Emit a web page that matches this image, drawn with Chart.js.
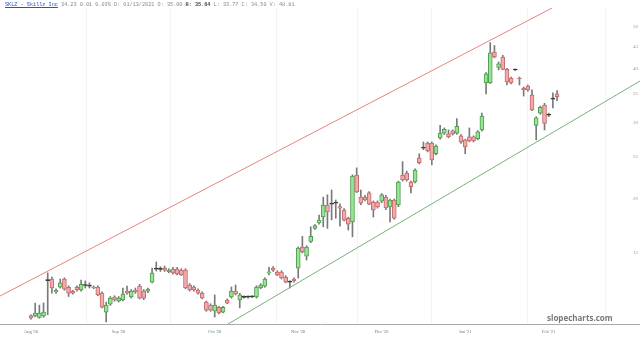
<!DOCTYPE html>
<html><head><meta charset="utf-8">
<script src="https://cdn.jsdelivr.net/npm/chart.js@4/dist/chart.umd.min.js"></script>
<style>
html,body{margin:0;padding:0;background:#fff;}
#wrap{position:relative;width:640px;height:338px;overflow:hidden;background:#fff;}
#hdr{position:absolute;left:5px;top:2px;font:5.2px 'Liberation Mono',monospace;color:#888;white-space:pre;line-height:7px;}
#hdr .t{color:#2a4fd0;text-decoration:underline;}
#hdr b{color:#444;}
#wm{position:absolute;left:547px;top:312px;font:bold 8px 'Open Sans',sans-serif;color:#777;white-space:nowrap;}
</style></head><body>
<div id="wrap"><canvas id="c" width="640" height="338"></canvas>
<div id="hdr"><span class="t">SKLZ - Skillz Inc</span> 34.23 0.01 0.03% D: 01/13/2021 O: 35.00 <b>H: 35.64</b> L: 33.77 C: 34.50 V: 48.81</div>
<div id="wm">slopecharts.com</div></div>
<script>
const opens  = [10.75,10.73,10.65,10.73,12.95,13.06,12.20,12.50,13.06,12.50,12.25,12.50,12.32,12.62,12.58,12.52,12.52,12.12,10.95,11.43,11.87,11.62,11.68,12.25,11.87,12.32,12.58,12.25,12.25,12.85,13.77,13.77,13.84,13.56,13.77,13.77,13.70,13.70,12.65,12.52,12.32,12.12,11.55,11.37,11.00,11.24,10.95,11.68,11.87,12.25,11.68,11.85,11.86,11.88,11.87,12.45,12.58,13.50,13.84,13.56,13.56,13.20,12.84,13.06,13.84,15.48,14.75,15.95,17.10,17.60,18.17,19.37,19.45,19.55,19.20,18.86,18.05,17.70,22.73,20.20,20.20,20.66,19.67,19.67,19.77,20.20,19.17,19.89,19.37,22.73,22.96,21.90,21.90,24.87,26.20,26.95,26.95,25.45,27.69,28.40,28.30,28.75,28.40,28.00,27.39,27.85,27.85,27.54,28.88,37.10,37.10,43.76,40.30,42.60,39.90,38.10,39.75,38.10,36.10,36.50,34.80,29.60,31.60,33.00,31.25,34.05,35.00];
const highs  = [10.80,11.49,11.37,11.50,13.50,13.20,12.40,13.06,13.15,12.60,12.30,12.60,12.99,12.93,12.80,12.60,12.60,12.20,11.55,11.90,11.95,11.90,12.45,12.58,12.35,12.45,12.70,12.35,12.45,13.84,14.30,13.95,14.00,13.80,13.90,13.90,13.80,13.80,12.75,12.60,12.40,12.20,11.62,11.45,12.00,11.30,11.30,11.75,12.52,12.65,12.10,11.95,11.95,11.95,12.60,12.75,13.15,13.90,13.95,13.65,13.65,13.30,12.95,13.15,15.50,16.40,15.60,17.25,17.45,18.35,20.20,20.45,20.98,19.90,19.50,19.00,18.15,22.75,23.60,20.98,20.40,20.80,19.80,19.80,20.60,20.40,20.00,20.00,22.00,24.40,23.20,22.00,23.50,25.45,27.10,27.10,27.10,26.70,29.60,29.20,28.90,28.90,30.70,28.20,27.50,29.20,28.00,28.80,31.60,39.20,46.00,45.30,41.50,43.00,40.10,38.30,40.00,38.30,36.30,36.70,35.75,31.00,32.80,33.30,31.60,35.20,35.64];
const lows   = [10.55,10.68,10.60,10.65,10.80,12.12,12.10,12.45,12.30,11.90,12.05,12.25,12.25,12.45,12.45,12.40,11.95,11.20,10.40,11.35,11.60,11.55,11.62,12.05,11.80,12.10,11.75,11.70,12.15,12.80,13.63,13.60,13.60,13.50,13.40,13.35,13.30,12.40,12.25,12.25,12.05,11.75,11.00,11.00,10.67,10.85,10.90,11.45,11.80,12.00,11.20,11.80,11.80,11.82,11.80,12.40,12.50,13.35,13.60,13.30,13.06,12.80,12.45,12.85,13.13,15.00,14.45,15.85,17.00,17.50,17.25,17.10,17.90,18.05,17.30,17.80,16.95,16.35,20.70,19.40,19.80,19.40,18.17,19.05,19.60,18.90,17.70,17.95,19.20,22.00,22.00,20.66,21.80,24.10,26.00,25.70,24.00,25.30,27.50,28.20,27.70,28.10,28.20,26.90,25.45,27.10,27.10,27.40,28.70,35.00,37.00,42.40,39.77,39.80,36.70,36.90,39.60,36.70,34.60,35.50,32.00,27.39,31.40,28.88,31.00,32.50,33.77];
const closes = [10.62,10.90,10.90,10.96,13.00,12.45,12.30,12.80,12.38,12.12,12.12,12.32,12.70,12.65,12.62,12.45,12.00,11.24,11.37,11.80,11.68,11.80,12.06,12.12,12.25,12.20,11.80,11.80,12.38,13.48,13.80,13.75,13.70,13.70,13.50,13.42,13.35,12.45,12.32,12.32,12.12,11.80,11.07,11.07,11.37,10.90,11.24,11.49,12.25,12.06,12.00,11.88,11.88,11.90,12.52,12.65,13.06,13.56,13.70,13.35,13.13,12.85,12.86,12.93,15.40,15.10,15.48,16.40,17.35,17.88,19.37,18.66,19.49,19.58,19.05,17.88,17.50,22.60,20.76,19.57,19.90,19.47,18.86,19.17,20.45,19.07,19.89,18.07,21.90,22.13,22.13,21.35,23.34,24.26,26.28,25.85,24.62,26.50,28.40,29.00,27.85,28.30,29.45,27.10,26.40,27.25,27.25,28.60,31.10,38.93,43.54,42.60,41.10,39.90,37.30,37.10,39.85,37.90,35.75,35.75,32.13,30.80,32.60,29.90,31.35,34.15,34.50];

const monthLabels = ["Aug '20","Sep '20","Oct '20","Nov '20","Dec '20","Jan '21","Feb '21"];
const monthIdx    = [0, 21, 44, 64, 84, 104, 124];
const gridIdx     = [13.4, 33.3, 58.7, 78.1, 96.0, 119.0, 137.5];
const yTicks      = [15, 20, 25, 30, 35, 40, 45, 50];

const upperTrendX = [-7.43, 124.8];
const upperTrendY = [11.93, 55.3];
const lowerTrendX = [47.2, 145.9];
const lowerTrendY = [10.28, 37.5];

const idx = opens.map((_, i) => i);
const isUp = idx.map(i => closes[i] >= opens[i]);
const isDoji = idx.map(i => Math.abs(closes[i] - opens[i]) / opens[i] < 0.004);
const bodyFill = idx.map(i => isDoji[i] ? '#333' : (isUp[i] ? '#93e793' : '#f2aaaa'));
const bodyBorder = idx.map(i => isDoji[i] ? '#333' : (isUp[i] ? '#4f9a4f' : '#c46a6a'));

const yLabelPlugin = {
  id: 'yLabels',
  afterDraw(chart) {
    const ctx = chart.ctx, sy = chart.scales.y;
    ctx.save();
    ctx.font = "5px 'Liberation Serif'";
    ctx.fillStyle = '#999';
    ctx.textAlign = 'right';
    ctx.textBaseline = 'middle';
    yTicks.forEach(v => ctx.fillText(String(v), 638, sy.getPixelForValue(v)));
    ctx.restore();
  }
};

new Chart(document.getElementById('c').getContext('2d'), {
  type: 'bar',
  data: {
    datasets: [
      { type: 'bar', data: idx.map(i => ({ x: i, y: [lows[i], highs[i]] })), backgroundColor: '#7a7a7a', barThickness: 1, grouped: false, order: 3 },
      { type: 'bar', data: idx.map(i => ({ x: i, y: [opens[i], closes[i]] })), backgroundColor: bodyFill, borderColor: bodyBorder, borderWidth: 1, borderSkipped: false, barThickness: 4, minBarLength: 1, grouped: false, order: 2 },
      { type: 'line', data: upperTrendX.map((x, k) => ({ x, y: upperTrendY[k] })), borderColor: '#e8837b', borderWidth: 1, pointRadius: 0, order: 1 },
      { type: 'line', data: lowerTrendX.map((x, k) => ({ x, y: lowerTrendY[k] })), borderColor: '#7ab07a', borderWidth: 1, pointRadius: 0, order: 1 }
    ]
  },
  plugins: [yLabelPlugin],
  options: {
    responsive: false, animation: false, devicePixelRatio: 1,
    layout: { padding: { top: 8, left: 0, right: 0, bottom: 0 } },
    plugins: { legend: { display: false }, tooltip: { enabled: false } },
    scales: {
      x: {
        type: 'linear', min: -7.43, max: 145.87, offset: false,
        afterBuildTicks: s => { s.ticks = monthIdx.concat(gridIdx).map(v => ({ value: v })); },
        ticks: {
          autoSkip: false, maxRotation: 0, padding: 5, color: '#5f7f5f',
          font: { size: 4.5, family: 'Liberation Serif' },
          callback: v => { const k = monthIdx.indexOf(v); return k >= 0 ? monthLabels[k] : ''; }
        },
        grid: { offset: false, drawTicks: false, color: c => (c.tick && gridIdx.includes(c.tick.value)) ? '#f3f3f3' : 'rgba(0,0,0,0)' },
        border: { color: '#aaaaaa', width: 1 },
        afterFit: s => { s.height = 14; }
      },
      y: {
        type: 'logarithmic', position: 'right', min: 10.28, max: 55.3,
        afterBuildTicks: s => { s.ticks = yTicks.map(v => ({ value: v })); },
        ticks: { display: false },
        grid: { display: false }, border: { display: false },
        afterFit: s => { s.width = 0; }
      }
    }
  }
});
</script>
</body></html>
